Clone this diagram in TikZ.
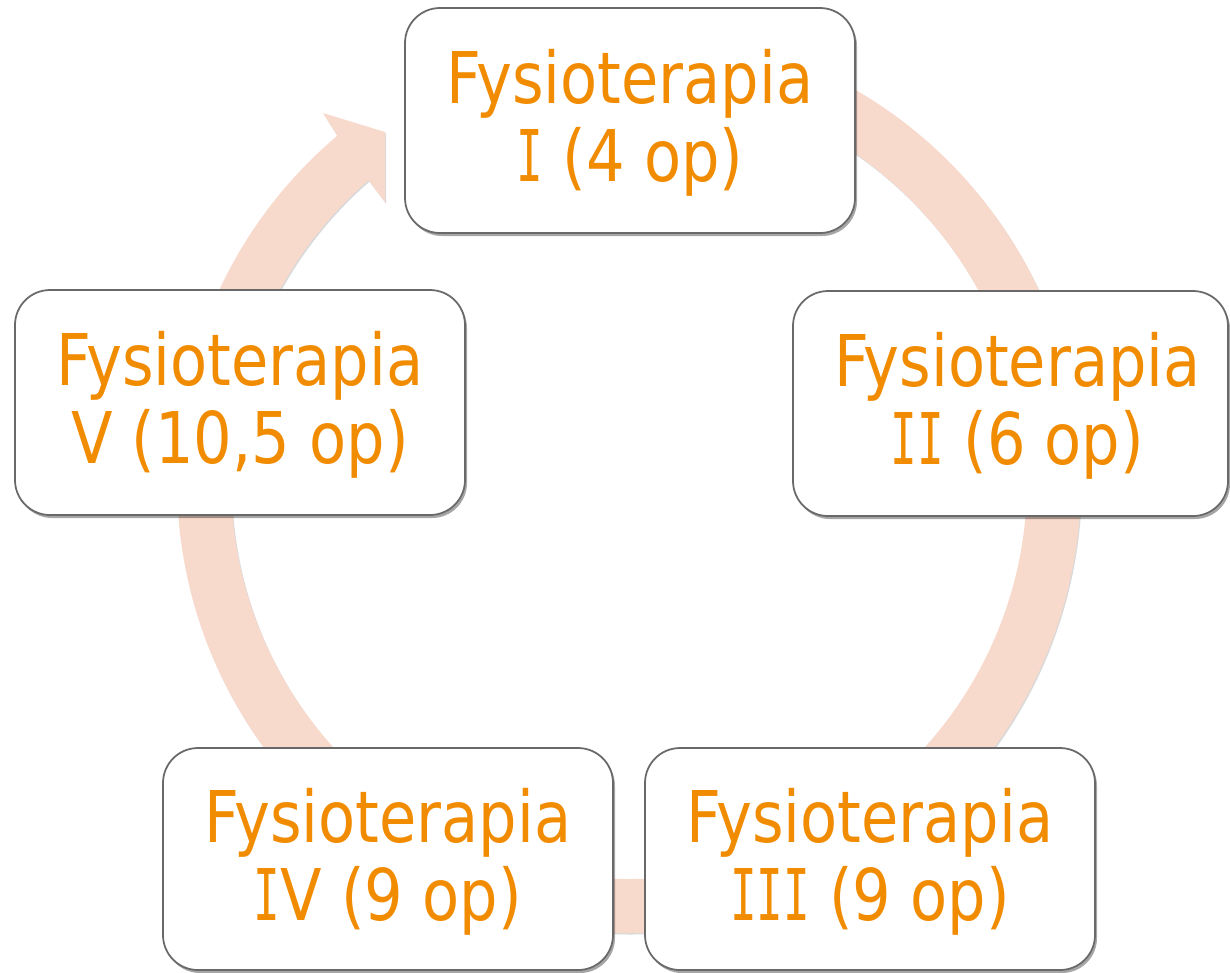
\documentclass[tikz,border=0pt]{standalone}
\usepackage{fontspec}
\setmainfont[FakeStretch=0.85]{DejaVu Sans}
\newfontfamily\romf[FakeStretch=0.62]{DejaVu Sans Mono}
\newcommand{\RI}{{\romf I}}
\usetikzlibrary{shadows}
\definecolor{txt}{RGB}{241,139,0}
\definecolor{ringc}{RGB}{248,218,204}
\definecolor{edgec}{RGB}{105,105,105}
\tikzset{
  stage/.style={draw=edgec, line width=0.5pt, fill=white, rounded corners=0.35cm,
    minimum height=2.25cm, minimum width=4.5cm, inner sep=0pt, align=center,
    text=txt, font=\fontsize{20.3}{22.2}\selectfont, text depth=0.1cm,
    drop shadow={shadow xshift=0.02cm, shadow yshift=-0.03cm, opacity=0.35, fill=black}},
  ringstyle/.style={fill=ringc,
    drop shadow={shadow xshift=0.01cm, shadow yshift=-0.015cm, opacity=0.15, fill=black}}
}
\begin{document}
\begin{tikzpicture}
\useasboundingbox (0,0) rectangle (12.30,-9.72);
% cycle ring with arrowhead (V -> I)
\coordinate (c) at (6.29,-4.81);
\fill[ringstyle] (c) ++(130.2:4.52) arc[start angle=130.2, end angle=450, radius=4.52]
  -- ++(0,-0.54) arc[start angle=450, end angle=130.9, radius=3.98]
  -- (3.85,-2.02) -- (3.85,-1.32) -- (3.23,-1.13) -- cycle;
% stages
\node[stage] (s1) at (6.30,-1.205) {Fysioterapia\\\RI{} (4 op)};
\node[stage, minimum width=4.35cm] (s2) at (10.105,-4.035) {\hspace*{0.14cm}Fysioterapia\\\hspace*{0.14cm}\RI\RI{} (6 op)};
\node[stage, minimum height=2.22cm] (s3) at (8.70,-8.59) {Fysioterapia\\\RI\RI\RI{} (9 op)};
\node[stage, minimum height=2.22cm] (s4) at (3.88,-8.59) {Fysioterapia\\\RI V (9 op)};
\node[stage] (s5) at (2.40,-4.025) {Fysioterapia\\V (10,5 op)};
\end{tikzpicture}
\end{document}
